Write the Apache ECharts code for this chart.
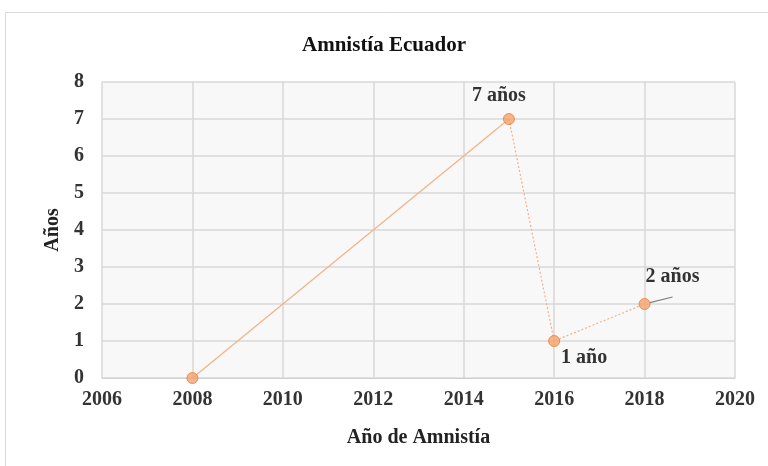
<!DOCTYPE html>
<html>
<head>
<meta charset="utf-8">
<script src="https://cdn.jsdelivr.net/npm/echarts@6/dist/echarts.min.js"></script>
<style>
  html, body { margin: 0; padding: 0; background: #fff; }
  #chart { width: 768px; height: 466px; }
</style>
</head>
<body>
<div id="chart"></div>
<script>
var years = [2008, 2015, 2016, 2018];
var amnistia = [0, 7, 1, 2];
var etiquetas = ['', '7 años', '1 año', '2 años'];

var serif = '"Liberation Serif", "DejaVu Serif", serif';
var puntos = years.map(function (y, i) { return [y, amnistia[i]]; });

var marcador = {
  color: '#f5a26f',
  borderColor: '#ed7d31',
  borderWidth: 1
};
var etiquetaBase = { show: true, fontFamily: serif, fontWeight: 'bold', fontSize: 20, color: '#000', textBorderWidth: 0 };

var option = {
  animation: false,
  backgroundColor: '#fff',
  title: {
    text: 'Amnistía Ecuador',
    left: 'center',
    top: 30,
    textStyle: { fontFamily: serif, fontWeight: 'bold', fontSize: 21, color: '#111' }
  },
  graphic: [{
    type: 'rect',
    shape: { x: 5.5, y: 12.5, width: 770, height: 470 },
    style: { fill: 'none', stroke: '#d9d9d9', lineWidth: 1 },
    silent: true
  }],
  grid: { left: 102, right: 33, top: 82, bottom: 88, backgroundColor: '#f8f8f8', show: true, borderWidth: 0 },
  xAxis: {
    type: 'value',
    min: 2006, max: 2020, interval: 2,
    name: 'Año de Amnistía',
    nameLocation: 'middle',
    nameGap: 50,
    nameTextStyle: { fontFamily: serif, fontWeight: 'bold', fontSize: 20, color: '#222' },
    axisLine: { show: true, lineStyle: { color: '#d0d0d0' } },
    axisTick: { show: false },
    axisLabel: { fontFamily: serif, fontWeight: 'bold', fontSize: 20, color: '#333', margin: 12,
      formatter: function (v) { return String(v); } },
    splitLine: { show: true, lineStyle: { color: '#d9d9d9', width: 1.5 } }
  },
  yAxis: {
    type: 'value',
    min: 0, max: 8, interval: 1,
    name: 'Años',
    nameLocation: 'middle',
    nameGap: 38,
    nameTextStyle: { fontFamily: serif, fontWeight: 'bold', fontSize: 20, color: '#222' },
    axisLine: { show: false },
    axisTick: { show: false },
    axisLabel: { fontFamily: serif, fontWeight: 'bold', fontSize: 20, color: '#333', margin: 18 },
    splitLine: { show: true, lineStyle: { color: '#d9d9d9', width: 1.5 } }
  },
  series: [
    {
      type: 'line',
      data: puntos.slice(0, 2),
      symbol: 'none',
      lineStyle: { color: '#f4b183', width: 1.2 },
      z: 2
    },
    {
      type: 'line',
      data: puntos.slice(1),
      symbol: 'none',
      lineStyle: { color: '#f4b183', width: 1.2, type: [2, 2] },
      z: 2
    },
    {
      type: 'scatter',
      data: puntos.map(function (p, i) {
        var d = { value: p };
        if (i === 1) d.label = Object.assign({}, etiquetaBase, { position: 'top', offset: [-10, -2], formatter: etiquetas[i] });
        if (i === 2) d.label = Object.assign({}, etiquetaBase, { position: 'bottom', offset: [30, -4], formatter: etiquetas[i] });
        if (i === 3) {
          d.label = Object.assign({}, etiquetaBase, { position: 'top', offset: [28, -6], formatter: etiquetas[i] });
          d.labelLine = { show: true, lineStyle: { color: '#7f7f7f', width: 1.2 } };
        }
        return d;
      }),
      symbol: 'circle',
      symbolSize: 11,
      itemStyle: marcador,
      z: 3
    }
  ]
};

var chart = echarts.init(document.getElementById('chart'));
chart.setOption(option);
</script>
</body>
</html>
